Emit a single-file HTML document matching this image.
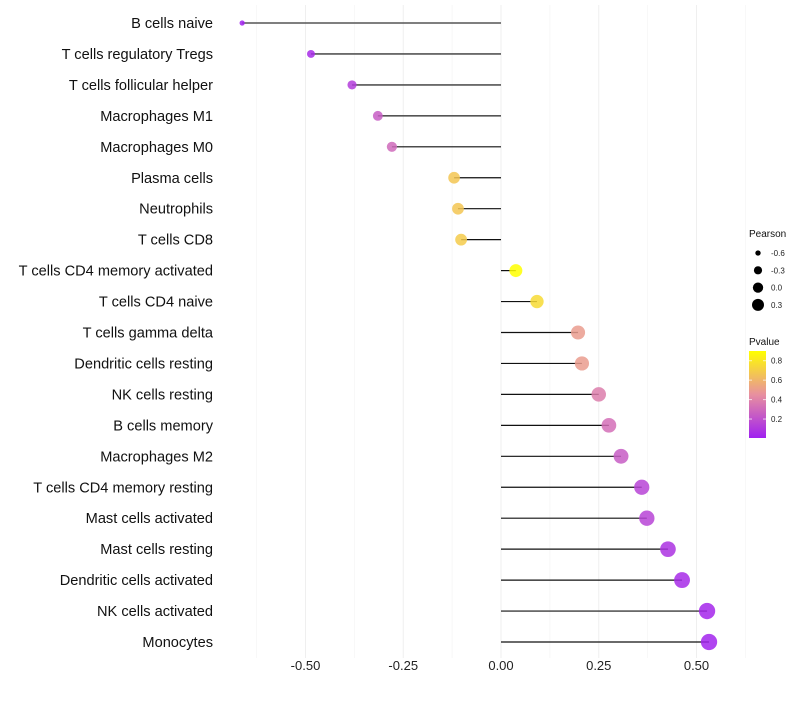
<!DOCTYPE html>
<html><head><meta charset="utf-8"><style>
body{margin:0;background:#fff;font-family:"Liberation Sans",Arial,sans-serif}
</style></head><body>
<svg id="c" width="800" height="700" xmlns="http://www.w3.org/2000/svg">
<defs><linearGradient id="pg" x1="0" y1="1" x2="0" y2="0">
<stop offset="0" stop-color="#a020f0"/><stop offset="0.5" stop-color="#e8909f"/><stop offset="1" stop-color="#ffff00"/>
</linearGradient></defs>
<g id="grid"></g><g id="marks"></g><g id="labels"></g><g id="legend"></g>
</svg>
<script>
const categories=["B cells naive","T cells regulatory  Tregs","T cells follicular helper","Macrophages M1","Macrophages M0","Plasma cells","Neutrophils","T cells CD8","T cells CD4 memory activated","T cells CD4 naive","T cells gamma delta","Dendritic cells resting","NK cells resting","B cells memory","Macrophages M2","T cells CD4 memory resting","Mast cells activated","Mast cells resting","Dendritic cells activated","NK cells activated","Monocytes"];
const pearson=[-0.662,-0.486,-0.381,-0.315,-0.279,-0.12,-0.11,-0.102,0.038,0.092,0.197,0.207,0.25,0.276,0.307,0.36,0.373,0.427,0.463,0.527,0.532];
const pvalue=[0.01,0.05,0.12,0.25,0.3,0.67,0.67,0.69,0.9,0.75,0.5,0.5,0.38,0.32,0.25,0.15,0.15,0.08,0.05,0.03,0.02];
const xTicks=[-0.5,-0.25,0,0.25,0.5];
const xTickLabels=["-0.50","-0.25","0.00","0.25","0.50"];
const NS="http://www.w3.org/2000/svg";
const X=v=>501+v*391;
const Y=i=>23+i*30.95;
const R=v=>Math.sqrt(Math.max(4,40+50*v));
const RL=v=>Math.sqrt(Math.max(2.5,26.4+32*v));
function mix(a,b,t){return a.map((x,i)=>Math.round(x+(b[i]-x)*t));}
function col(p){const t=Math.min(1,Math.max(0,(p-0.005)/0.895));
const s0=[160,32,240],s1=[232,144,159],s2=[255,255,0];
const c=t<0.5?mix(s0,s1,t/0.5):mix(s1,s2,(t-0.5)/0.5);return `rgb(${c})`;}
function mk(tag,at,parent,txt){const e=document.createElementNS(NS,tag);for(const k in at)e.setAttribute(k,at[k]);if(txt!=null)e.textContent=txt;parent.appendChild(e);return e;}
const grid=document.getElementById('grid'),marks=document.getElementById('marks'),labels=document.getElementById('labels'),legend=document.getElementById('legend');
for(let k=-5;k<=5;k++){const v=k*0.125;const major=k%2===0;
const g=mk('line',{x1:X(v),x2:X(v),y1:5,y2:658,stroke:major?'#efefef':'#f6f6f6','stroke-width':major?1:0.8},grid);

}
xTicks.forEach((v,i)=>{const t=mk('text',{x:X(v),y:670,'text-anchor':'middle','font-size':13,fill:'#222'},labels,xTickLabels[i]);

});
categories.forEach((c,i)=>{
const y=Y(i);
const t=mk('text',{x:213,y:y+5,'text-anchor':'end','font-size':14.6,fill:'#111'},labels,c);


const l=mk('line',{x1:X(0),x2:X(pearson[i]),y1:y,y2:y,stroke:i<4?'#555':'#111','stroke-width':i<4?1.6:1.2},marks);


const d=mk('circle',{cx:X(pearson[i]),cy:y,r:R(pearson[i]),fill:col(pvalue[i]),'fill-opacity':0.85},marks);


});
let t=mk('text',{x:749,y:237,'font-size':10,fill:'#111'},legend,'Pearson');


[-0.6,-0.3,0,0.3].forEach((v,i)=>{const y=253+i*17.3;
const c=mk('circle',{cx:758,cy:y,r:RL(v),fill:'#000'},legend);


const tt=mk('text',{x:771,y:y+3,'font-size':8,fill:'#222'},legend,v===0?'0.0':String(v));

});
t=mk('text',{x:749,y:345,'font-size':10,fill:'#111'},legend,'Pvalue');


const bar=mk('rect',{x:749,y:351,width:17,height:87,fill:'url(#pg)'},legend);


[0.8,0.6,0.4,0.2].forEach(v=>{const y=438-(v-0.005)/0.895*87;
mk('line',{x1:749,x2:752,y1:y,y2:y,stroke:'#fff','stroke-opacity':0.7},legend);
mk('line',{x1:763,x2:766,y1:y,y2:y,stroke:'#fff','stroke-opacity':0.7},legend);
const tt=mk('text',{x:771,y:y+3,'font-size':8,fill:'#222'},legend,v.toFixed(1));

});
</script>
</body></html>
